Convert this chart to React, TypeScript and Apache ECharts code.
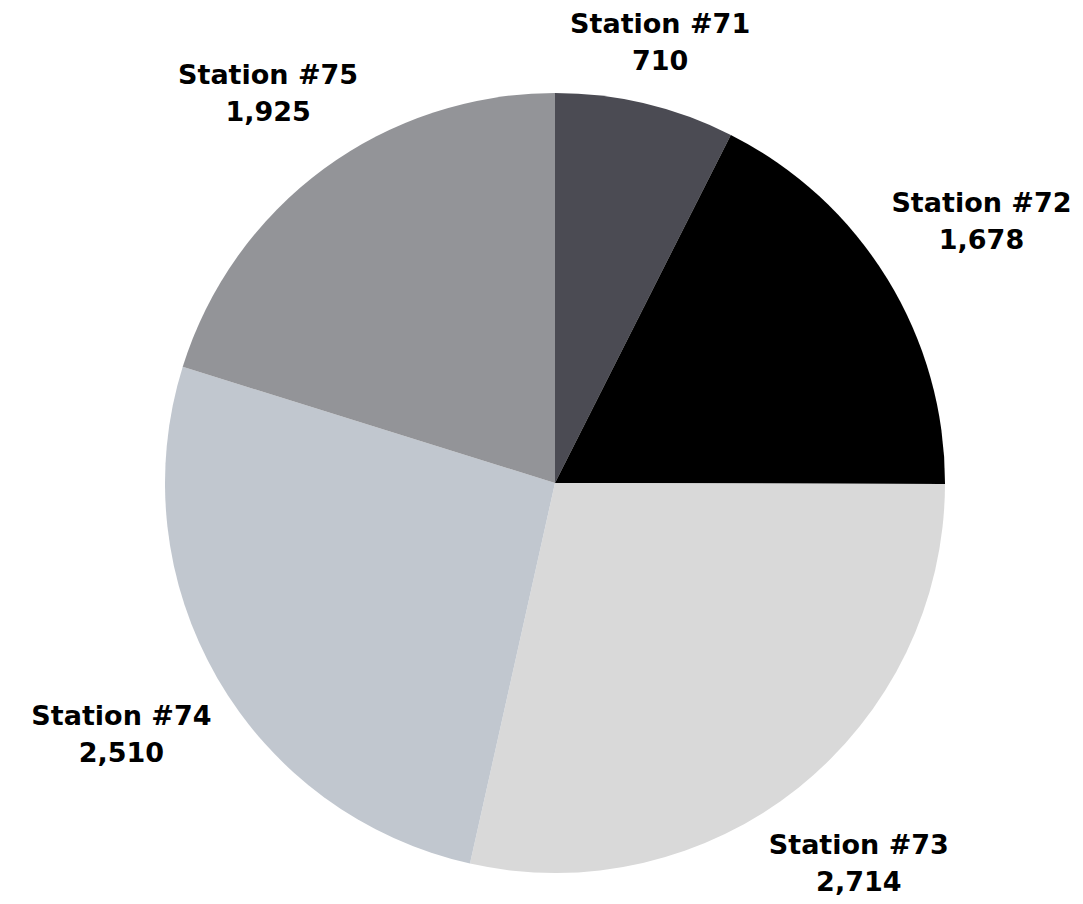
import React, { useEffect, useRef } from "react";
import * as echarts from "echarts";

const categories = ["Station #71", "Station #72", "Station #73", "Station #74", "Station #75"];
const values = [710, 1678, 2714, 2510, 1925];
const colors = ["#4b4b53", "#000000", "#d9d9d9", "#c1c7cf", "#939498"];

const CX = 555;
const CY = 483;
const R = 390;
const GAP = 4;
const PAD_X = 12;

export default function App() {
  const ref = useRef<HTMLDivElement>(null);
  useEffect(() => {
    if (!ref.current) return;
    const chart = echarts.init(ref.current, undefined, { renderer: "svg" });
    const total = values.reduce((a, b) => a + b, 0);
    const mids: number[] = [];
    let acc = 0;
    values.forEach((v) => {
      mids.push(((acc + v / 2) / total) * Math.PI * 2);
      acc += v;
    });
    chart.setOption({
      animation: false,
      backgroundColor: "#ffffff",
      series: [
        {
          type: "pie",
          center: [CX, CY],
          radius: [0, R],
          startAngle: 90,
          clockwise: true,
          avoidLabelOverlap: false,
          itemStyle: { borderWidth: 0 },
          emphasis: { disabled: true },
          data: categories.map((c, i) => ({
            name: c,
            value: values[i],
            itemStyle: { color: colors[i] },
          })),
          label: {
            show: true,
            position: "outside",
            formatter: (p: any) => `${p.name}\n${Number(p.value).toLocaleString("en-US")}`,
            fontFamily: "DejaVu Sans",
            fontWeight: "bold",
            fontSize: 27,
            lineHeight: 37,
            color: "#000000",
            align: "center",
          },
          labelLine: { show: false },
          labelLayout: (params: any) => {
            const th = mids[params.dataIndex];
            const s = Math.sin(th);
            const c = Math.cos(th);
            const w = params.labelRect.width;
            const h = params.labelRect.height;
            const d = R + GAP + Math.abs((w / 2 + PAD_X) * s) + Math.abs((h / 2) * c);
            return {
              x: CX + d * s,
              y: CY - d * c,
              align: "center",
              verticalAlign: "middle",
            };
          },
        },
      ],
    });
    return () => chart.dispose();
  }, []);
  return (
    <div
      ref={ref}
      style={{ position: "fixed", left: 0, top: 0, width: 1083, height: 904 }}
    />
  );
}
